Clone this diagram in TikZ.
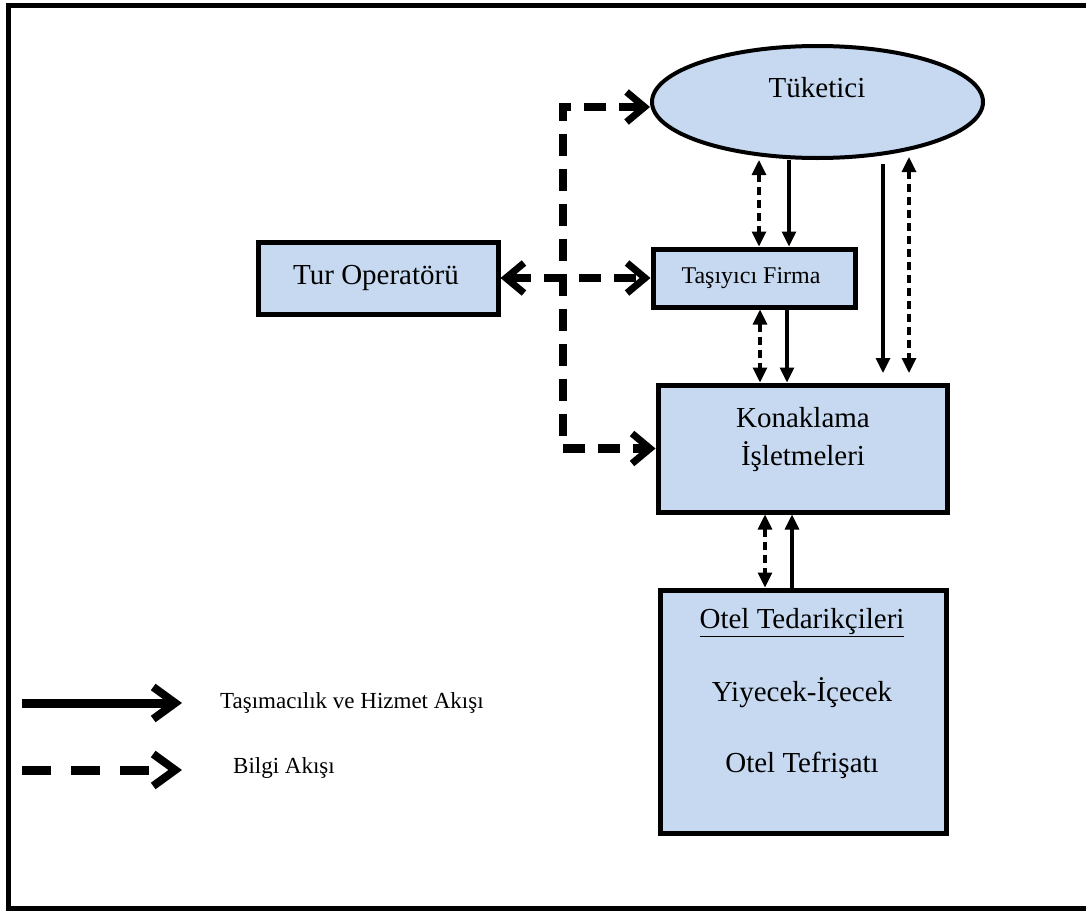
\documentclass[tikz,border=0pt]{standalone}
\usepackage{fontspec}
\setmainfont{Liberation Serif}
\usetikzlibrary{arrows.meta,shapes.geometric}
\definecolor{boxblue}{HTML}{C6D9F1}
\tikzset{
  unitbox/.style={draw=black, line width=5pt, fill=boxblue, inner sep=0pt},
  lbl/.style={inner sep=0pt, font=\fontsize{29}{34}\selectfont},
  info/.style={line width=8.5pt, dash pattern=on 22pt off 13pt,
    {Straight Barb[length=18pt,width=30pt,line width=7pt]}-{Straight Barb[length=18pt,width=30pt,line width=7pt]}},
  flow/.style={line width=3.2pt, -{Triangle[length=15pt,width=14pt]}},
  flowinfo/.style={line width=3.2pt, dash pattern=on 8pt off 5pt,
    {Triangle[length=15pt,width=14pt]}-{Triangle[length=15pt,width=14pt]}},
  legsolid/.style={line width=9pt, -{Straight Barb[length=22pt,width=32pt,line width=8pt]}},
  legdash/.style={line width=9pt, dash pattern=on 29pt off 20pt,
    -{Straight Barb[length=22pt,width=32pt,line width=8pt]}},
  legtext/.style={anchor=west, inner sep=0pt, font=\fontsize{23}{27}\selectfont}
}
\begin{document}
\begin{tikzpicture}[x=1pt, y=-1pt]
\useasboundingbox (0,0) rectangle (1086,910);
% page frame (right side runs off the page)
\draw[line width=5.5pt] (1100,5.5) -- (8.5,5.5) -- (8.5,908.5) -- (1100,908.5);

% units
\node[unitbox, ellipse, line width=4pt, minimum width=331pt, minimum height=112pt] (tk) at (817.5,102) {};
\node[lbl] (tkt) at (817,88) {Tüketici};

\node[unitbox, minimum width=202pt, minimum height=58pt] (tas) at (754,278) {};
\node[inner sep=0pt, font=\fontsize{24}{28}\selectfont] (tast) at (751,278) {Taşıyıcı Firma};

\node[unitbox, minimum width=240pt, minimum height=72pt] (tur) at (378,278) {};
\node[lbl] (turt) at (376,278) {Tur Operatörü};

\node[unitbox, minimum width=289pt, minimum height=127pt] (kon) at (802.5,448.5) {};
\node[lbl] (kon1) at (803,418) {Konaklama};
\node[lbl] (kon2) at (803,457) {İşletmeleri};

\node[unitbox, minimum width=286pt, minimum height=243pt] (ot) at (803,711.5) {};
\node[lbl] (ot1) at (802,623) {\underline{Otel Tedarikçileri}};
\node[lbl] (ot2) at (802,693) {Yiyecek-İçecek};
\node[lbl] (ot3) at (802,765) {Otel Tefrişatı};

% information flow of the tour operator
\coordinate (spine) at (563,278);
\draw[info] ([yshift=-5pt]tk.west) -| (spine) |- (kon.west);
\draw[info] (tur.east) -- (tas.west);

% links between the units
\draw[flowinfo] (tk.south -| 759,0) -- (tas.north -| 759,0);
\draw[flow] (tk.south -| 789,0) -- (tas.north -| 789,0);
\coordinate (rs) at (883,164);
\coordinate (re) at (883,373);
\coordinate (ds) at (909,157);
\coordinate (de) at (909,373);
\draw[flow] (rs) -- (re);
\draw[flowinfo] (ds) -- (de);
\draw[flowinfo] (tas.south -| 760,0) -- (kon.north -| 760,0);
\draw[flow] (tas.south -| 787,0) -- (kon.north -| 787,0);
\draw[flowinfo] (kon.south -| 765,0) -- (ot.north -| 765,0);
\draw[flow] (ot.north -| 792,0) -- (kon.south -| 792,0);

% legend
\coordinate (l1a) at (22,703);
\coordinate (l1b) at (182,703);
\coordinate (l2a) at (22,770);
\coordinate (l2b) at (182,770);
\draw[legsolid] (l1a) -- (l1b);
\draw[legdash] (l2a) -- (l2b);
\node[legtext] (leg1) at (220,703) {Taşımacılık ve Hizmet Akışı};
\node[legtext] (leg2) at (233,768) {Bilgi Akışı};
\end{tikzpicture}
\end{document}
